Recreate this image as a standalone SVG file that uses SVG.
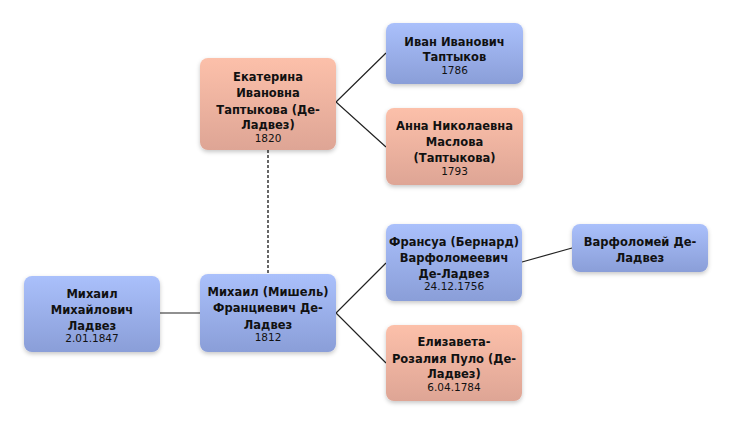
<svg xmlns="http://www.w3.org/2000/svg" width="732" height="426" viewBox="0 0 732 426">
<defs>
<linearGradient id="gb" x1="0" y1="0" x2="0" y2="1"><stop offset="0" stop-color="#aac0fb"/><stop offset="1" stop-color="#8a9ed8"/></linearGradient>
<linearGradient id="gs" x1="0" y1="0" x2="0" y2="1"><stop offset="0" stop-color="#fcc0aa"/><stop offset="1" stop-color="#dea595"/></linearGradient>
<filter id="sh" x="-10%" y="-10%" width="120%" height="130%"><feDropShadow dx="0" dy="2" stdDeviation="2" flood-color="#000" flood-opacity="0.22"/></filter>
</defs>
<style>
.b{fill:url(#gb);filter:url(#sh)}
.s{fill:url(#gs);filter:url(#sh)}
text{font-family:"DejaVu Sans","Noto Sans",sans-serif;text-anchor:middle;fill:#111}
.n{font-size:11.5px;font-weight:bold}
.d{font-size:10.5px}
.c{stroke:#222;stroke-width:1.2;fill:none}
.dash{stroke:#666;stroke-width:2;stroke-dasharray:3 2;fill:none}
</style>
<rect width="732" height="426" fill="#fff"/>
<g id="connectors">
<line class="dash" x1="268" y1="150" x2="268" y2="274"/>
<polyline class="c" points="386,53 336,102 386,147"/>
<polyline class="c" points="386,263 336,313 386,363"/>
<line class="c" x1="160" y1="313" x2="200" y2="313"/>
<line class="c" x1="522" y1="262" x2="572" y2="248"/>
</g>
<g id="ekaterina">
<rect class="s" x="200" y="58" width="136" height="92" rx="8"/>
<text class="n" x="268" y="80.5">Екатерина</text>
<text class="n" x="268" y="97">Ивановна</text>
<text class="n" x="268" y="113.5">Таптыкова (Де-</text>
<text class="n" x="268" y="129">Ладвез)</text>
<text class="d" x="268" y="141.5">1820</text>
</g>
<g id="ivan">
<rect class="b" x="386" y="23" width="137" height="61" rx="8"/>
<text class="n" x="454.5" y="45.5">Иван Иванович</text>
<text class="n" x="454.5" y="61">Таптыков</text>
<text class="d" x="454.5" y="74">1786</text>
</g>
<g id="anna">
<rect class="s" x="386" y="108" width="137" height="77" rx="8"/>
<text class="n" x="454.5" y="129.5">Анна Николаевна</text>
<text class="n" x="454.5" y="146">Маслова</text>
<text class="n" x="454.5" y="162">(Таптыкова)</text>
<text class="d" x="454.5" y="175">1793</text>
</g>
<g id="mikhail">
<rect class="b" x="24" y="276" width="136" height="76" rx="8"/>
<text class="n" x="92" y="297.5">Михаил</text>
<text class="n" x="92" y="314">Михайлович</text>
<text class="n" x="92" y="330">Ладвез</text>
<text class="d" x="92" y="342">2.01.1847</text>
</g>
<g id="mishel">
<rect class="b" x="200" y="274" width="136" height="78" rx="8"/>
<text class="n" x="268" y="295.5">Михаил (Мишель)</text>
<text class="n" x="268" y="312">Франциевич Де-</text>
<text class="n" x="268" y="328.5">Ладвез</text>
<text class="d" x="268" y="341">1812</text>
</g>
<g id="francois">
<rect class="b" x="386" y="224" width="136" height="77" rx="8"/>
<text class="n" x="454" y="246">Франсуа (Бернард)</text>
<text class="n" x="454" y="262">Варфоломеевич</text>
<text class="n" x="454" y="278">Де-Ладвез</text>
<text class="d" x="454" y="290">24.12.1756</text>
</g>
<g id="varfolomei">
<rect class="b" x="572" y="224" width="136" height="48" rx="8"/>
<text class="n" x="640" y="246">Варфоломей Де-</text>
<text class="n" x="640" y="262">Ладвез</text>
</g>
<g id="elizaveta">
<rect class="s" x="386" y="325" width="136" height="76" rx="8"/>
<text class="n" x="454" y="346">Елизавета-</text>
<text class="n" x="454" y="362.5">Розалия Пуло (Де-</text>
<text class="n" x="454" y="378">Ладвез)</text>
<text class="d" x="454" y="391">6.04.1784</text>
</g>
</svg>
